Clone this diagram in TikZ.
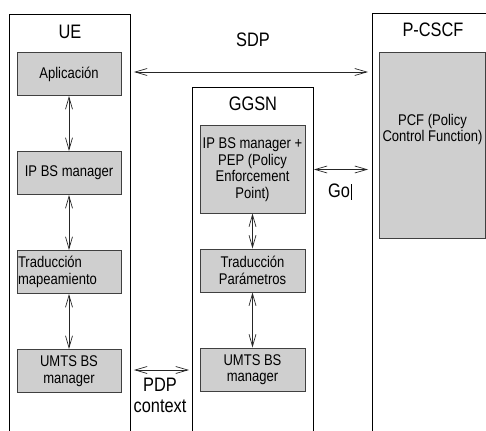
\documentclass[tikz,border=0pt]{standalone}
\usepackage{fontspec}
\setmainfont{Liberation Sans}[FakeStretch=0.84]
\usetikzlibrary{arrows.meta, positioning}

\begin{document}
\begin{tikzpicture}[x=1pt, y=-1pt,
        entity/.style = {
            rectangle,
            draw,
            line width=0.9pt,
            anchor=north west,
            inner sep=0pt
        },
        block/.style = {
            rectangle,
            draw=black!75,
            fill=black!19,
            line width=1pt,
            minimum width=104pt,
            minimum height=43pt,
            inner sep=1pt,
            align=center,
            font=\fontsize{15.5}{16.5}\selectfont
        },
        title/.style = {
            inner sep=0pt,
            align=center,
            font=\fontsize{19.5}{21.5}\selectfont
        },
        link/.style = {
            {Straight Barb[length=12pt,width=7pt]}-{Straight Barb[length=12pt,width=7pt]},
            line width=0.7pt,
            black!85
        },
        node distance=55pt
    ]
    \useasboundingbox (0,0) rectangle (486,430);
    \clip (0,0) rectangle (486,430);

    % outer entities, open at the bottom
    \node (ue) [entity, minimum width=121pt, minimum height=440pt] at (9,14) {};
    \node (ggsn) [entity, minimum width=121pt, minimum height=360pt] at (192,87) {};
    \node (pcscf) [entity, minimum width=130pt, minimum height=440pt] at (372,13) {};

    \node (uetitle) [title, below=11pt of ue.north] {UE};
    \node (ggsntitle) [title, below=10pt of ggsn.north] {GGSN};
    \node (pcscftitle) [title] at (433,30) {P-CSCF};

    % UE
    \node (aplicacion) [block] at (69,74) {Aplicación};
    \node (ipbs) [block, below=of aplicacion] {IP BS manager};
    \node (traduccion) [block, below=of ipbs, text width=102pt, align=left]
        {Traducción\\mapeamiento};
    \node (umtsue) [block, below=of traduccion] {UMTS BS\\manager};

    % GGSN
    \node (pep) [block, minimum height=87pt, minimum width=105pt] at (252.5,169.5)
        {IP BS manager +\\PEP (Policy\\Enforcement\\Point)};
    \node (parametros) [block, minimum width=105pt, below=35pt of pep]
        {Traducción\\Parámetros};
    \node (umtsggsn) [block, minimum width=105pt, below=of parametros]
        {UMTS BS\\manager};

    % P-CSCF
    \node (pcf) [block, minimum width=106pt, minimum height=186pt, anchor=north west,
        label={[align=center, font=\fontsize{15.5}{16.5}\selectfont, yshift=16pt]center:PCF (Policy\\Control Function)}]
        at (379,52) {};

    \draw[link] (aplicacion) -- (ipbs);
    \draw[link] (ipbs) -- (traduccion);
    \draw[link] (traduccion) -- (umtsue);
    \draw[link] (pep) -- (parametros);
    \draw[link] (parametros) -- (umtsggsn);

    \draw[link] ([xshift=3pt, yshift=2pt]ue.east |- aplicacion.east)
        -- ([xshift=-4pt, yshift=2pt]pcscf.west |- aplicacion.east);
    \draw[link] (ggsn.east |- pep.east) -- ([xshift=-4pt]pcscf.west |- pep.east);
    \draw[link] ([xshift=3pt, yshift=1pt]ue.east |- umtsue.east)
        -- ([xshift=-3pt, yshift=1pt]ggsn.west |- umtsue.east);

    \node (sdp) [title] at (253,40) {SDP};
    \node (go) [title] at (339,191) {Go};
    \draw[line width=0.8pt] ([xshift=1.5pt, yshift=-1.5pt]go.south east) -- ([xshift=1.5pt]go.north east);
    \node (pdp) [title, font=\fontsize{19.5}{21}\selectfont] at (160,395) {PDP\\context};
\end{tikzpicture}
\end{document}
